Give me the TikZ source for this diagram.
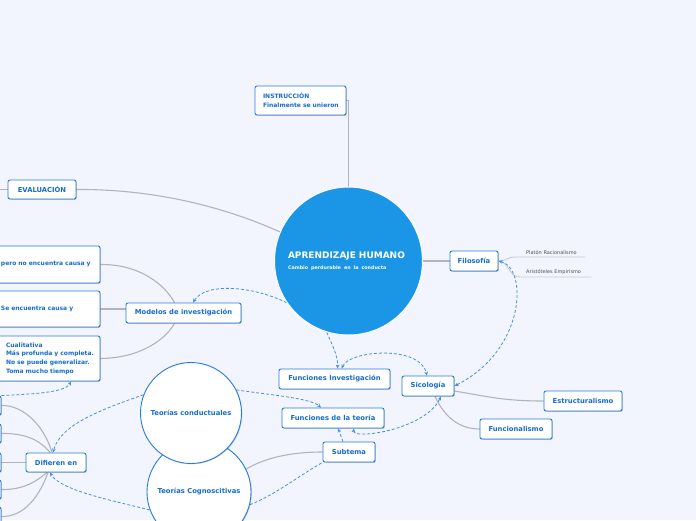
\documentclass[tikz,border=0pt]{standalone}
\usepackage{fontspec}
\setmainfont{DejaVu Sans}
\usetikzlibrary{shadows,calc,arrows.meta}
\definecolor{bgc}{RGB}{242,245,253}
\definecolor{bord}{RGB}{38,124,222}
\definecolor{tblue}{RGB}{22,108,208}
\definecolor{mainblue}{RGB}{27,150,230}
\definecolor{gl}{RGB}{178,180,188}
\definecolor{ll}{RGB}{200,204,214}
\definecolor{dblue}{RGB}{72,142,228}
\definecolor{leaftext}{RGB}{80,80,88}
\pgfdeclarelayer{background}
\pgfsetlayers{background,main}
\tikzset{
  topic/.style={draw=bord, fill=white, rounded corners=2pt, line width=0.9pt,
    font=\bfseries\fontsize{6.8}{8.5}\selectfont, text=tblue, inner sep=0pt,
    drop shadow={shadow xshift=0.8pt, shadow yshift=-0.8pt, opacity=0.22, fill=black}},
  lbox/.style={topic, align=left, inner xsep=8pt, font=\bfseries\fontsize{6}{8.6}\selectfont},
  bubble/.style={circle, draw=bord, fill=white, line width=0.9pt, inner sep=0pt,
    font=\bfseries\fontsize{6.8}{8.5}\selectfont, text=tblue,
    drop shadow={shadow xshift=0.8pt, shadow yshift=-0.8pt, opacity=0.18, fill=black}},
  leaf/.style={font=\fontsize{5}{6}\selectfont, text=leaftext, inner xsep=0pt, inner ysep=2pt, align=left},
  gline/.style={draw=gl, line width=1.1pt},
  lline/.style={draw=ll, line width=0.9pt},
  dline/.style={draw=dblue, line width=0.8pt, dash pattern=on 3pt off 2pt},
  tip/.style={-{Stealth[length=4pt,width=3.6pt]}},
  tips/.style={{Stealth[length=4pt,width=3.6pt]}-{Stealth[length=4pt,width=3.6pt]}}
}
\begin{document}
\begin{tikzpicture}[x=1pt,y=-1pt]
\useasboundingbox (0,0) rectangle (696,520);
\begin{pgfonlayer}{background}
\fill[bgc] (0,0) rectangle (696,520);
\end{pgfonlayer}

% central topic
\node[circle, fill=mainblue, draw=white, line width=1pt, minimum size=148pt, inner sep=0pt,
  text width=121pt, align=left, text=white, font=\bfseries\fontsize{9}{12}\selectfont] (main) at (348.5,261)
  {\mbox{APRENDIZAJE HUMANO}\\[-1.5pt]{\fontsize{4.8}{6}\selectfont\mbox{Cambio perdurable en la conducta}}};

% boxes
\node[lbox, text width=75pt, minimum height=29pt, font=\bfseries\fontsize{6}{8.8}\selectfont] (instr) at (300.5,100.5) {\mbox{INSTRUCCIÓN}\\\mbox{Finalmente se unieron}};
\node[topic, minimum width=68pt, minimum height=19pt] (eval) at (42,189.5) {EVALUACIÓN};
\coordinate (evstub) at (-6,189.5);
\node[topic, minimum width=48pt, minimum height=20pt] (filo) at (474,261) {Filosofía};
\node[leaf, text width=69pt, anchor=south west] (plat) at (516,257) {\hspace*{10pt}\mbox{Platón Racionalismo}};
\node[leaf, text width=71pt, anchor=south west] (arist) at (520,277) {\hspace*{6pt}\mbox{Aristóteles Empirismo}};
\node[topic, minimum width=52pt, minimum height=20pt] (sico) at (428,386) {Sicología};
\node[topic, minimum width=78pt, minimum height=20pt] (estr) at (583,401) {Estructuralismo};
\node[topic, minimum width=72pt, minimum height=20pt] (func) at (516,429) {Funcionalismo};
\node[topic, minimum width=111pt, minimum height=20pt] (finv) at (334.5,379) {Funciones Investigación};
\node[topic, minimum width=102pt, minimum height=20pt] (fteo) at (333,418) {Funciones de la teoría};
\node[topic, minimum width=52pt, minimum height=20pt] (subt) at (349,452) {Subtema};
\node[topic, minimum width=115pt, minimum height=20pt] (model) at (183.5,313) {Modelos de investigación};
\node[lbox, text width=91pt, minimum height=37pt] (b1) at (46.5,264.5) {\mbox{pero no encuentra causa y}};
\node[lbox, text width=91pt, minimum height=36pt] (b2) at (46.5,309) {\mbox{Se encuentra causa y}};
\node[lbox, text width=86pt, minimum height=45pt] (b3) at (49,358.5)
  {\mbox{Cualitativa}\\\mbox{Más profunda y completa.}\\\mbox{No se puede generalizar.}\\\mbox{Toma mucho tiempo}};
\node[topic, minimum width=60pt, minimum height=19pt] (dif) at (56,462.5) {Difieren en};
\node[topic, minimum width=61pt, minimum height=19pt] (c1) at (-29.5,405.5) {};
\node[topic, minimum width=61pt, minimum height=19pt] (c2) at (-29.5,433.5) {};
\node[topic, minimum width=61pt, minimum height=19pt] (c3) at (-29.5,462.5) {};
\node[topic, minimum width=61pt, minimum height=19pt] (c4) at (-29.5,489.5) {};
\node[topic, minimum width=61pt, minimum height=19pt] (c5) at (-29.5,516.5) {};

% circles
\node[bubble, minimum size=104pt] (cogn) at (199,492) {Teorías Cognoscitivas};
\node[bubble, minimum size=101pt] (cond) at (191,413) {Teorías conductuales};

\begin{pgfonlayer}{background}
% solid connectors
\draw[gline] (instr.east) -| (main.north);
\draw[gline] (eval.east) .. controls (150,189) and (220,205) .. (main.157);
\draw[gline] (eval.west) -- (evstub);
\draw[gline] (main.east) -- (filo.west);
\draw[lline] (filo.east) .. controls (507,261) and (506,257) .. (plat.south west) -- (plat.south east);
\draw[lline] (filo.east) .. controls (510,262) and (508,277) .. (arist.south west) -- (arist.south east);
\draw[gline] ($(sico.east)+(0,5)$) .. controls (490,397) and (505,401) .. (estr.west);
\draw[gline] ($(sico.south)+(7,0)$) .. controls (445,418) and (460,429) .. (func.west);
\draw[gline] (b1.east) .. controls (140,264) and (165,285) .. ($(model.north)+(-9,0)$);
\draw[gline] (b2.east) -- (b2.east -| model.west);
\draw[gline] (b3.east) .. controls (140,358) and (165,340) .. ($(model.south)+(-9,0)$);
\draw[gline] (c1.east) .. controls (25,405) and (45,428) .. ($(dif.north)+(-4,0)$);
\draw[gline] (c2.east) .. controls (25,433) and (40,440) .. ($(dif.north)+(-6,0)$);
\draw[gline] (c3.east) -- (dif.west);
\draw[gline] (c4.east) .. controls (25,490) and (38,480) .. ($(dif.south)+(-9,0)$);
\draw[gline] (c5.east) .. controls (25,517) and (40,495) .. ($(dif.south)+(-8,0)$);
\draw[gline] (subt.west) .. controls (290,452) and (265,458) .. (cogn.26);
% dashed relations
\draw[dline, tip] (main.214) .. controls (250,285) and (205,283) .. ($(model.north)+(9.5,0)$);
\draw[dline, tip] (main.253) .. controls (332,345) and (338,355) .. ($(finv.north)+(3,0)$);
\draw[dline, tips] ($(finv.north)+(7,0)$) .. controls (350,350) and (420,345) .. ($(sico.north)+(-1,0)$);
\draw[dline, tips] (filo.east) .. controls (528,268) and (526,350) .. (sico.east);
\draw[dline, tip] (cond.27) .. controls (270,395) and (310,398) .. ($(fteo.north)+(-12,0)$);
\draw[dline, tip] (cond.159) .. controls (100,410) and (60,425) .. ($(dif.north)+(-3,0)$);
\draw[dline, tip] (cogn.200) .. controls (110,500) and (60,490) .. ($(dif.south)+(-6,0)$);
\draw[dline, tip] (c1.north east) .. controls (30,394) and (65,393) .. ($(b3.south)+(22,0)$);
\draw[dline, tip] ($(subt.north)+(-6,0)$) -- ($(fteo.south)+(5,0)$);
\draw[dline, tips] ($(fteo.south)+(21,0)$) .. controls (352,440) and (425,430) .. ($(sico.south)+(13,0)$);
\draw[dline] (cogn.-14) .. controls (275,495) and (300,475) .. (subt.south west);
\end{pgfonlayer}
\end{tikzpicture}
\end{document}
